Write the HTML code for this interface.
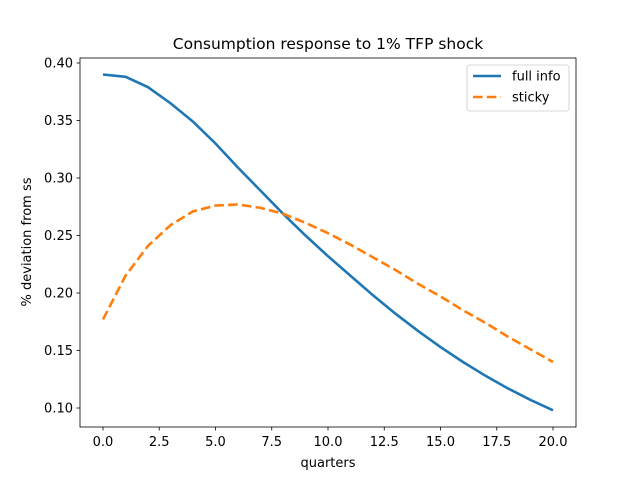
<!DOCTYPE html>
<html><head><meta charset="utf-8"><style>
body{margin:0;background:#fff}
svg{font-family:"DejaVu Sans","Liberation Sans",sans-serif}
</style></head><body>
<svg id="c" width="640" height="480"></svg>
<script>
const quarters=[0,1,2,3,4,5,6,7,8,9,10,11,12,13,14,15,16,17,18,19,20];
const fullInfo=[0.390,0.388,0.379,0.365,0.349,0.330,0.309,0.289,0.269,0.250,0.232,0.215,0.198,0.182,0.167,0.153,0.140,0.128,0.117,0.107,0.098];
const sticky=[0.177,0.215,0.241,0.259,0.271,0.276,0.277,0.274,0.269,0.261,0.252,0.242,0.231,0.220,0.208,0.197,0.185,0.174,0.162,0.151,0.140];
const xTicks=[0,2.5,5,7.5,10,12.5,15,17.5,20];
const xTickLabels=["0.0","2.5","5.0","7.5","10.0","12.5","15.0","17.5","20.0"];
const yTicks=[0.10,0.15,0.20,0.25,0.30,0.35,0.40];
const yTickLabels=["0.10","0.15","0.20","0.25","0.30","0.35","0.40"];
const NS="http://www.w3.org/2000/svg";
const svg=document.getElementById('c');
const L=80,R=576,T=58,B=427;
const xs=v=>103+v*22.5;
const ys=v=>408-(v-0.10)*1150;
function mk(t,a,txt){const e=document.createElementNS(NS,t);for(const k in a)e.setAttribute(k,a[k]);if(txt!=null)e.textContent=txt;svg.appendChild(e);return e;}
let e;
e=mk('rect',{x:L,y:T,width:R-L,height:B-T,fill:'#fff',stroke:'#000','stroke-width':0.8});


xTicks.forEach((t,i)=>{
 e=mk('line',{x1:xs(t),x2:xs(t),y1:B,y2:B+3.5,stroke:'#000','stroke-width':0.8});
 
 
 e=mk('text',{x:xs(t),y:B+19,'font-size':13,'text-anchor':'middle'},xTickLabels[i]);
 
 
});
yTicks.forEach((t,i)=>{
 e=mk('line',{x1:L-3.5,x2:L,y1:ys(t),y2:ys(t),stroke:'#000','stroke-width':0.8});
 
 
 e=mk('text',{x:L-7,y:ys(t)+4.7,'font-size':13,'text-anchor':'end'},yTickLabels[i]);
 
 
});
function line(vals,color,dash,name){
 const p=quarters.map((q,i)=>xs(q)+','+ys(vals[i])).join(' ');
 const a={points:p,fill:'none',stroke:color,'stroke-width':2.6};
 if(dash)a['stroke-dasharray']=dash;
 const el=mk('polyline',a);
 
 
}
line(fullInfo,'#1f77b4',null,'full-info-line');
line(sticky,'#ff7f0e','9.6,4.2','sticky-line');
e=mk('text',{x:328,y:49,'font-size':15.5,'text-anchor':'middle'},'Consumption response to 1% TFP shock');


e=mk('text',{x:328,y:467,'font-size':13,'text-anchor':'middle'},'quarters');


e=mk('text',{x:31,y:242,'font-size':13,'text-anchor':'middle',transform:'rotate(-90 31 242)'},'% deviation from ss');


e=mk('rect',{x:467,y:65,width:102,height:46,rx:2.5,fill:'#fff',stroke:'#ccc','stroke-width':0.8});


e=mk('line',{x1:473,x2:501,y1:76,y2:76,stroke:'#1f77b4','stroke-width':2.6});


e=mk('text',{x:512,y:80.5,'font-size':13},'full info');


e=mk('line',{x1:473,x2:501,y1:97,y2:97,stroke:'#ff7f0e','stroke-width':2.6,'stroke-dasharray':'9.6,4.2'});


e=mk('text',{x:512,y:101.5,'font-size':13},'sticky');


</script>
</body></html>
